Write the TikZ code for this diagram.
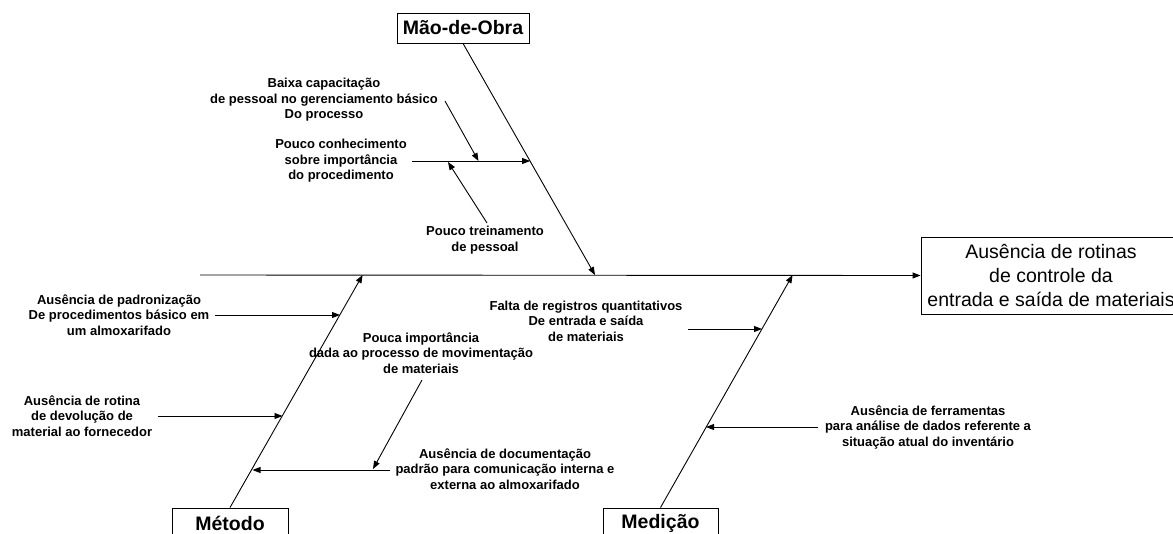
\documentclass[tikz,border=0pt]{standalone}
\usepackage{fontspec}
\setmainfont{Liberation Sans}
\usetikzlibrary{arrows.meta}

\begin{document}
\begin{tikzpicture}[x=1pt,y=-1pt,
  cause/.style={font=\fontsize{13}{15.5}\selectfont\bfseries, align=center, inner sep=0pt},
  catbox/.style={draw, line width=0.9pt, fill=white, inner sep=0pt,
    font=\fontsize{19.5}{23}\selectfont\bfseries, minimum height=30pt},
  effectbox/.style={draw, line width=0.9pt, inner sep=0pt, align=center,
    font=\fontsize{19.5}{24}\selectfont, minimum width=260pt, minimum height=77pt},
  bone/.style={line width=0.9pt},
  arr/.style={-{Triangle[length=8pt,width=6pt]}, line width=0.9pt}]

\useasboundingbox (0,0) rectangle (1173,533);
\clip (0,0) rectangle (1173,533);

% effect and category boxes
\node[effectbox] (effect) at (1051,275.5)
  {Ausência de rotinas\\de controle da\\entrada e saída de materiais};
\node[catbox, minimum width=132pt] (mao) at (463,28) {Mão-de-Obra};
\node[catbox, minimum width=116pt] (metodo) at (230,523) {Método};
\node[catbox, minimum width=115pt] (medicao) at (660.5,523) {Medição};

% spine
\coordinate (tail) at (200,275);
\draw[arr] (tail) -- (effect.west);

% main bones
\coordinate (maoTip) at (595,275);
\coordinate (metTip) at (362.6,275);
\coordinate (medTip) at (792.6,275);
\draw[arr] (mao.south) -- (maoTip);
\draw[arr] (metodo.north) -- (metTip);
\draw[arr] (medicao.north) -- (medTip);

% Mao-de-Obra causes
\node[cause] (baixa) at (324,100)
  {Baixa capacitação\\de pessoal no gerenciamento básico\\Do processo};
\node[cause] (conhec) at (341,161)
  {Pouco conhecimento\\sobre importância\\do procedimento};
\node[cause] (treino) at (485,240) {Pouco treinamento\\de pessoal};

\coordinate (conhecA) at (412,161);
\coordinate (conhecB) at (530.1,161);
\draw[arr] (conhecA) -- (conhecB);

\coordinate (baixaA) at (445,101);
\coordinate (baixaB) at (478.5,161);
\draw[arr] (baixaA) -- (baixaB);

\coordinate (treinoA) at (487,223);
\coordinate (treinoB) at (448,162);
\draw[arr] (treinoA) -- (treinoB);

% Metodo causes
\node[cause] (padron) at (119,315)
  {Ausência de padronização\\De procedimentos básico em\\um almoxarifado};
\node[cause] (devol) at (82,416)
  {Ausência de rotina\\de devolução de\\material ao fornecedor};
\node[cause] (pouca) at (421,353)
  {Pouca importância\\dada ao processo de movimentação\\de materiais};
\node[cause] (doc) at (505,469)
  {Ausência de documentação\\padrão para comunicação interna e\\externa ao almoxarifado};

\coordinate (padronA) at (215,315);
\coordinate (padronB) at (340,315);
\draw[arr] (padronA) -- (padronB);

\coordinate (devolA) at (158,416);
\coordinate (devolB) at (282.5,416);
\draw[arr] (devolA) -- (devolB);

\coordinate (docA) at (390,470);
\coordinate (docB) at (252.5,470);
\draw[arr] (docA) -- (docB);

\coordinate (poucaA) at (422,380);
\coordinate (poucaB) at (373,469);
\draw[arr] (poucaA) -- (poucaB);

% Medicao causes
\node[cause] (falta) at (586,321)
  {Falta de registros quantitativos\\De entrada e saída\\de materiais};
\node[cause] (ferr) at (928,427)
  {Ausência de ferramentas\\para análise de dados referente a\\situação atual do inventário};

\coordinate (faltaA) at (688,329);
\coordinate (faltaB) at (762,329);
\draw[arr] (faltaA) -- (faltaB);

\coordinate (ferrA) at (818,427);
\coordinate (ferrB) at (706,427);
\draw[arr] (ferrA) -- (ferrB);

\end{tikzpicture}
\end{document}
